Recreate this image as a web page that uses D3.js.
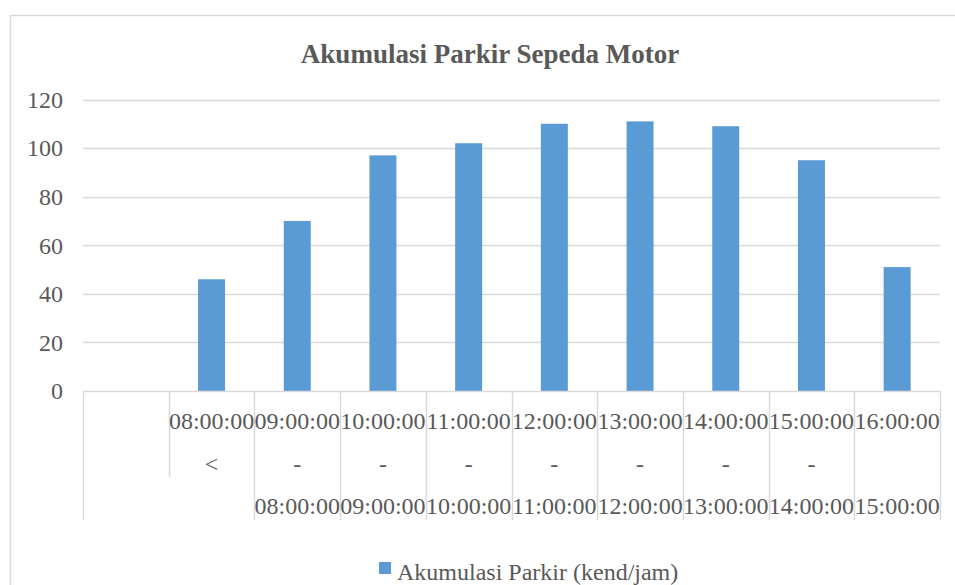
<!DOCTYPE html>
<html><head><meta charset="utf-8">
<script src="https://cdn.jsdelivr.net/npm/d3@7/dist/d3.min.js"></script>
<style>body{margin:0;background:#fff}svg{display:block}</style>
</head><body>
<svg id="chart" width="955" height="585"></svg>
<script>
const categories = ["c0","c1","c2","c3","c4","c5","c6","c7","c8","c9"];
const values = [null, 46, 70, 97, 102, 110, 111, 109, 95, 51];
const labelRow1 = ["", "08:00:00", "09:00:00", "10:00:00", "11:00:00", "12:00:00", "13:00:00", "14:00:00", "15:00:00", "16:00:00"];
const labelRow2 = ["", "<", "-", "-", "-", "-", "-", "-", "-", ""];
const labelRow3 = ["", "", "08:00:00", "09:00:00", "10:00:00", "11:00:00", "12:00:00", "13:00:00", "14:00:00", "15:00:00"];
const yTicks = [0, 20, 40, 60, 80, 100, 120];
const title = "Akumulasi Parkir Sepeda Motor";
const seriesName = "Akumulasi Parkir (kend/jam)";

const svg = d3.select("#chart");
const font = "'Liberation Serif','Times New Roman',serif";
const textColor = "#595959";
const gridColor = "#D9D9D9";
const barColor = "#5B9BD5";

// chart border
svg.append("rect").attr("x", 10.5).attr("y", 15.5).attr("width", 960).attr("height", 600)
  .attr("fill", "none").attr("stroke", gridColor).attr("stroke-width", 1.5);

const x = d3.scaleBand().domain(categories).range([83, 940]).paddingInner(0).paddingOuter(0);
const y = d3.scaleLinear().domain([0, 120]).range([391, 99.5]);

// gridlines
svg.append("g").selectAll("line").data(yTicks.filter(d => d > 0)).join("line")
  .attr("x1", 83).attr("x2", 940)
  .attr("y1", d => Math.round(y(d)) + 0.5).attr("y2", d => Math.round(y(d)) + 0.5)
  .attr("stroke", gridColor).attr("stroke-width", 1.5);

// y tick labels
svg.append("g").selectAll("text").data(yTicks).join("text")
  .attr("x", 63).attr("y", d => y(d)).attr("dy", "0.35em")
  .attr("text-anchor", "end").attr("font-family", font).attr("font-size", 24)
  .attr("fill", textColor).text(d => d);

// bars
const bw = x.bandwidth() * 0.315;
svg.append("g").selectAll("rect").data(categories.map((c, i) => ({c, v: values[i]})).filter(d => d.v != null)).join("rect")
  .attr("x", d => x(d.c) + (x.bandwidth() - bw) / 2)
  .attr("y", d => y(d.v))
  .attr("width", bw)
  .attr("height", d => y(0) - y(d.v))
  .attr("fill", barColor);

// axis line
svg.append("line").attr("x1", 83).attr("x2", 940).attr("y1", 391.5).attr("y2", 391.5)
  .attr("stroke", gridColor).attr("stroke-width", 1.5);

// category dividers
const boundaries = categories.map(c => x(c)).concat([940]);
svg.append("g").selectAll("line").data(boundaries).join("line")
  .attr("x1", d => Math.round(d) + 0.5).attr("x2", d => Math.round(d) + 0.5)
  .attr("y1", 391).attr("y2", (d, i) => i === 1 ? 477 : 520)
  .attr("stroke", gridColor).attr("stroke-width", 1.5);

// category labels
const rows = [labelRow1, labelRow2, labelRow3];
const rowY = [421, 464, 506];
rows.forEach((row, r) => {
  svg.append("g").selectAll("text").data(categories).join("text")
    .attr("x", d => x(d) + x.bandwidth() / 2)
    .attr("y", rowY[r]).attr("dy", "0.35em")
    .attr("text-anchor", "middle").attr("font-family", font).attr("font-size", 24)
    .attr("fill", textColor).text((d, i) => row[i]);
});

// title
svg.append("text").attr("x", 490).attr("y", 54).attr("dy", "0.35em")
  .attr("text-anchor", "middle").attr("font-family", font).attr("font-size", 27)
  .attr("font-weight", "bold").attr("fill", textColor).text(title);

// legend
const lg = svg.append("g");
lg.append("rect").attr("x", 379).attr("y", 562).attr("width", 12).attr("height", 12).attr("fill", barColor);
lg.append("text").attr("x", 397).attr("y", 572).attr("dy", "0.35em")
  .attr("font-family", font).attr("font-size", 24).attr("fill", textColor).text(seriesName);
</script>
</body></html>
